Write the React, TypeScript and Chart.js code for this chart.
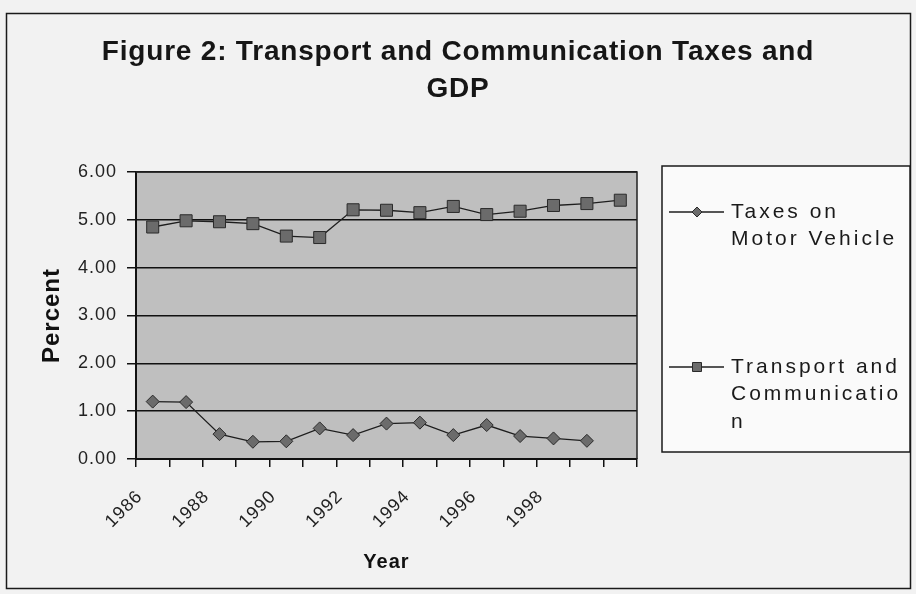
import React, { useEffect, useRef } from "react";
import { Chart, registerables } from "chart.js";

Chart.register(...registerables);

// ---- data ----
const years = ["1986", "1987", "1988", "1989", "1990", "1991", "1992", "1993", "1994", "1995", "1996", "1997", "1998", "1999", "2000"];
const shownYears = ["1986", "1988", "1990", "1992", "1994", "1996", "1998"];
const motorVehicle = [1.2, 1.19, 0.52, 0.36, 0.37, 0.64, 0.5, 0.74, 0.76, 0.5, 0.71, 0.48, 0.43, 0.38, null];
const transportComm = [4.85, 4.98, 4.96, 4.92, 4.66, 4.63, 5.21, 5.2, 5.15, 5.28, 5.11, 5.18, 5.3, 5.34, 5.41];
const seriesNames = ["Taxes on Motor Vehicle", "Transport and Communication"];
const legendLines = [["Taxes on", "Motor Vehicle"], ["Transport and", "Communicatio", "n"]];
const titleLines = ["Figure 2: Transport and Communication Taxes and", "GDP"];
const yMin = 0;
const yMax = 6;
const yStep = 1;

const FONT = '"Liberation Sans", Arial, sans-serif';

function drawMarker(ctx: CanvasRenderingContext2D, style: string, x: number, y: number, r: number) {
  ctx.beginPath();
  if (style === "rectRot") {
    ctx.moveTo(x - r, y);
    ctx.lineTo(x, y - r);
    ctx.lineTo(x + r, y);
    ctx.lineTo(x, y + r);
    ctx.closePath();
  } else {
    ctx.rect(x - r, y - r, 2 * r, 2 * r);
  }
  ctx.fill();
  ctx.stroke();
}

const decor = {
  id: "decor",
  beforeUpdate(chart: any) {
    chart.ctx.letterSpacing = "1px";
  },
  beforeLayout(chart: any) {
    chart.ctx.letterSpacing = "1px";
  },
  beforeDraw(chart: any) {
    const { ctx, chartArea: a, width, height } = chart;
    ctx.save();
    ctx.fillStyle = "#f2f2f2";
    ctx.fillRect(0, 0, width, height);
    ctx.fillStyle = "#bfbfbf";
    ctx.fillRect(a.left, a.top, a.right - a.left, a.bottom - a.top);
    // outer frame
    ctx.strokeStyle = "#1a1a1a";
    ctx.lineWidth = 1.5;
    ctx.strokeRect(6.5, 13.5, 904, 575);
    ctx.restore();
    ctx.letterSpacing = "1px";
  },
  afterDraw(chart: any) {
    const { ctx, chartArea: a } = chart;
    ctx.save();
    // plot border right/top
    ctx.strokeStyle = "#222";
    ctx.lineWidth = 1.5;
    ctx.beginPath();
    ctx.moveTo(a.left, a.top);
    ctx.lineTo(a.right, a.top);
    ctx.lineTo(a.right, a.bottom);
    ctx.stroke();

    // title
    ctx.fillStyle = "#161616";
    ctx.font = `bold 28px ${FONT}`;
    ctx.letterSpacing = "0.8px";
    ctx.textAlign = "center";
    ctx.textBaseline = "alphabetic";
    titleLines.forEach((t, i) => ctx.fillText(t, 458, 60 + i * 37));

    // legend box
    ctx.letterSpacing = "0px";
    ctx.fillStyle = "#fafafa";
    ctx.fillRect(662, 166, 248, 286);
    ctx.strokeStyle = "#1a1a1a";
    ctx.lineWidth = 1.5;
    ctx.strokeRect(662, 166, 248, 286);

    const itemY = [212, 367];
    chart.data.datasets.forEach((ds: any, i: number) => {
      const y = itemY[i];
      ctx.strokeStyle = "#1e1e1e";
      ctx.lineWidth = 1.3;
      ctx.beginPath();
      ctx.moveTo(669, y);
      ctx.lineTo(724, y);
      ctx.stroke();
      ctx.fillStyle = "#6b6b6b";
      ctx.strokeStyle = "#2a2a2a";
      ctx.lineWidth = 1;
      drawMarker(ctx, ds.pointStyle, 697, y, i === 0 ? 5 : 4.5);
      ctx.fillStyle = "#1a1a1a";
      ctx.font = `21px ${FONT}`;
      ctx.letterSpacing = "3px";
      ctx.textAlign = "left";
      ctx.textBaseline = "middle";
      legendLines[i].forEach((t, j) => ctx.fillText(t, 731, y + j * 27.5));
      ctx.letterSpacing = "0px";
    });
    ctx.restore();
    ctx.letterSpacing = "1px";
  },
};

export default function App() {
  const ref = useRef<HTMLCanvasElement>(null);
  useEffect(() => {
    document.body.style.margin = "0";
    const canvas = ref.current;
    if (!canvas) return;
    Chart.defaults.font.family = FONT;
    const chart = new Chart(canvas, {
      type: "line",
      data: {
        labels: years,
        datasets: [
          {
            label: seriesNames[0],
            data: motorVehicle,
            borderColor: "#1e1e1e",
            borderWidth: 1.3,
            pointStyle: "rectRot",
            pointRadius: 6.5,
            pointBackgroundColor: "#6b6b6b",
            pointBorderColor: "#2a2a2a",
            pointBorderWidth: 1,
            tension: 0,
            spanGaps: false,
          },
          {
            label: seriesNames[1],
            data: transportComm,
            borderColor: "#1e1e1e",
            borderWidth: 1.3,
            pointStyle: "rect",
            pointRadius: 8.5,
            pointBackgroundColor: "#6b6b6b",
            pointBorderColor: "#2a2a2a",
            pointBorderWidth: 1,
            tension: 0,
          },
        ],
      },
      options: {
        responsive: false,
        animation: false,
        devicePixelRatio: 1,
        layout: { padding: { top: 172, right: 279, bottom: 0, left: 0 } },
        plugins: {
          legend: { display: false },
          title: { display: false },
          tooltip: { enabled: false },
        },
        scales: {
          x: {
            type: "category",
            offset: true,
            grid: {
              display: true,
              drawOnChartArea: false,
              drawTicks: true,
              tickLength: 8,
              offset: true,
              color: "#111",
              lineWidth: 1.5,
            },
            border: { display: true, color: "#111", width: 2 },
            ticks: {
              autoSkip: false,
              maxRotation: 45,
              minRotation: 45,
              padding: 19,
              labelOffset: -13,
              color: "#222",
              font: { size: 18 },
              callback: function (this: any, v: any) {
                const l = this.getLabelForValue(v);
                return shownYears.includes(l) ? l : "";
              },
            },
            title: {
              display: true,
              text: "Year",
              color: "#111",
              font: { size: 20, weight: "bold" },
              padding: { top: 0, bottom: 20 },
            },
            afterFit: (s: any) => {
              s.height = 135;
            },
          },
          y: {
            min: yMin,
            max: yMax,
            grid: { color: "#111", lineWidth: 1.5, tickLength: 9 },
            border: { display: true, color: "#111", width: 2 },
            ticks: {
              stepSize: yStep,
              padding: 10,
              color: "#222",
              font: { size: 18 },
              callback: (v: any) => Number(v).toFixed(2),
            },
            title: {
              display: true,
              text: "Percent",
              color: "#111",
              font: { size: 24, weight: "bold" },
              padding: { top: 38, bottom: 0 },
            },
            afterFit: (s: any) => {
              s.width = 136;
            },
          },
        },
      },
      plugins: [decor],
    });
    return () => chart.destroy();
  }, []);
  return <canvas ref={ref} width={916} height={594} style={{ display: "block" }} />;
}
